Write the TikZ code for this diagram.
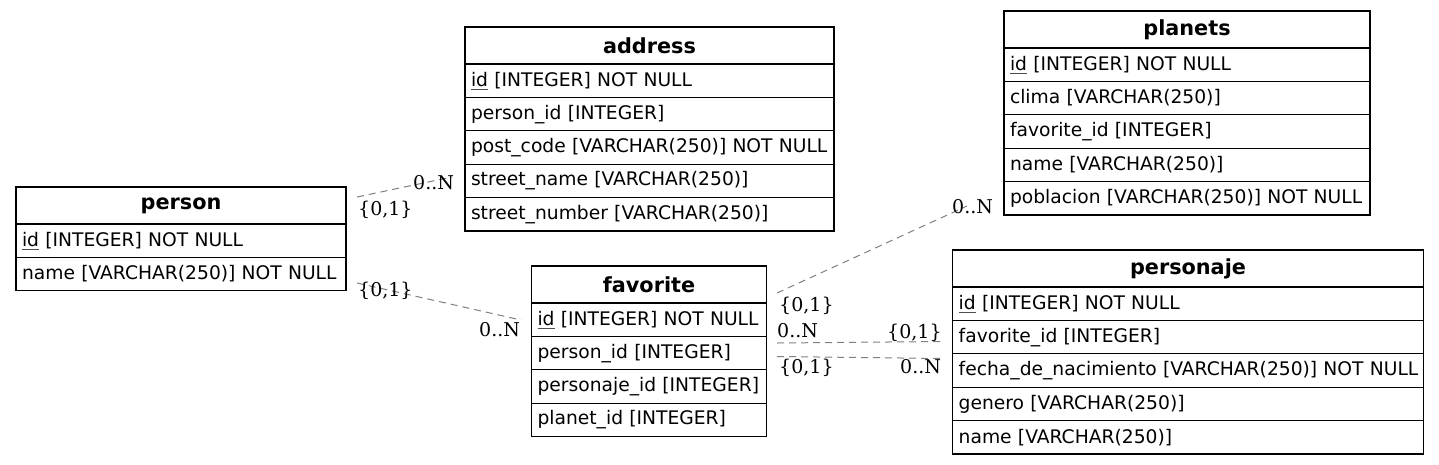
\documentclass[tikz,border=0pt]{standalone}
\usepackage{fontspec}
\setmainfont{DejaVu Sans}
\newfontfamily\lblfont{DejaVu Serif}
\definecolor{edgegray}{RGB}{128,128,128}
\newcommand\pk[1]{{\setbox0\hbox{#1}\rlap{\color{black!70}\rule[-3.2pt]{\wd0}{0.9pt}}\box0}}
\begin{document}
\begin{tikzpicture}[x=1pt,y=-1pt,
  hdr/.style={draw, line width=1.1pt, anchor=north west, inner sep=0pt, outer sep=0pt,
    minimum height=37pt, font=\fontsize{20.8}{22}\selectfont\bfseries},
  fld/.style={draw, line width=1.1pt, anchor=north west, inner xsep=6pt, inner ysep=0pt, outer sep=0pt,
    minimum height=33.4pt, align=left, font=\fontsize{18.7}{20}\selectfont},
  rel/.style={draw=edgegray, dash pattern=on 7pt off 5pt, line width=1pt},
  card/.style={font=\lblfont\fontsize{19}{20}\selectfont, inner sep=0pt, anchor=base west}]
\useasboundingbox[fill=white] (0,0) rectangle (1439,464);

% person
\node[hdr, minimum width=330pt] (person) at (16,187) {person};
\node[fld, text width=318pt] (person-id) at (person.south west) {\mbox{\pk{id} [INTEGER] NOT NULL}};
\node[fld, text width=318pt] (person-name) at (person-id.south west) {\mbox{name [VARCHAR(250)] NOT NULL}};

% address
\node[hdr, minimum width=369pt] (address) at (465,27) {address};
\node[fld, text width=357pt] (address-id) at (address.south west) {\mbox{\pk{id} [INTEGER] NOT NULL}};
\node[fld, text width=357pt] (address-pid) at (address-id.south west) {\mbox{person\_id [INTEGER]}};
\node[fld, text width=357pt] (address-pc) at (address-pid.south west) {\mbox{post\_code [VARCHAR(250)] NOT NULL}};
\node[fld, text width=357pt] (address-sn) at (address-pc.south west) {\mbox{street\_name [VARCHAR(250)]}};
\node[fld, text width=357pt] (address-snum) at (address-sn.south west) {\mbox{street\_number [VARCHAR(250)]}};

% planets
\node[hdr, minimum width=366pt] (planets) at (1004,11) {planets};
\node[fld, text width=354pt] (planets-id) at (planets.south west) {\mbox{\pk{id} [INTEGER] NOT NULL}};
\node[fld, text width=354pt] (planets-clima) at (planets-id.south west) {\mbox{clima [VARCHAR(250)]}};
\node[fld, text width=354pt] (planets-fid) at (planets-clima.south west) {\mbox{favorite\_id [INTEGER]}};
\node[fld, text width=354pt] (planets-name) at (planets-fid.south west) {\mbox{name [VARCHAR(250)]}};
\node[fld, text width=354pt] (planets-pob) at (planets-name.south west) {\mbox{poblacion [VARCHAR(250)] NOT NULL}};

% favorite
\node[hdr, minimum width=235pt] (favorite) at (531.5,266) {favorite};
\node[fld, text width=223pt] (favorite-id) at (favorite.south west) {\mbox{\pk{id} [INTEGER] NOT NULL}};
\node[fld, text width=223pt] (favorite-pid) at (favorite-id.south west) {\mbox{person\_id [INTEGER]}};
\node[fld, text width=223pt] (favorite-pjid) at (favorite-pid.south west) {\mbox{personaje\_id [INTEGER]}};
\node[fld, text width=223pt] (favorite-plid) at (favorite-pjid.south west) {\mbox{planet\_id [INTEGER]}};

% personaje
\node[hdr, minimum width=470.6pt] (personaje) at (952.7,250) {personaje};
\node[fld, text width=458.6pt] (personaje-id) at (personaje.south west) {\mbox{\pk{id} [INTEGER] NOT NULL}};
\node[fld, text width=458.6pt] (personaje-fid) at (personaje-id.south west) {\mbox{favorite\_id [INTEGER]}};
\node[fld, text width=458.6pt] (personaje-fn) at (personaje-fid.south west) {\mbox{fecha\_de\_nacimiento [VARCHAR(250)] NOT NULL}};
\node[fld, text width=458.6pt] (personaje-gen) at (personaje-fn.south west) {\mbox{genero [VARCHAR(250)]}};
\node[fld, text width=458.6pt] (personaje-name) at (personaje-gen.south west) {\mbox{name [VARCHAR(250)]}};

% connector end points
\coordinate (e1a) at (357,197);  \coordinate (e1b) at (452,177);
\coordinate (e2a) at (357,283);  \coordinate (e2b) at (521,320);
\coordinate (e3a) at (777,293);  \coordinate (e3b) at (967,206);
\coordinate (e4a) at (777,343);  \coordinate (e4b) at (943,341.5);
\coordinate (e5a) at (777,356.5);\coordinate (e5b) at (943,358.5);

\draw[rel] (e1a) -- (e1b);
\draw[rel] (e2a) -- (e2b);
\draw[rel] (e3a) -- (e3b);
\draw[rel] (e4a) -- (e4b);
\draw[rel] (e5a) -- (e5b);

% cardinalities
\node[card] (c1b) at (413,189.3) {0..N};
\node[card] (c1a) at (358,215) {\{0,1\}};
\node[card] (c2a) at (358,296.7) {\{0,1\}};
\node[card] (c2b) at (479,336.7) {0..N};
\node[card] (c3a) at (779,311.7) {\{0,1\}};
\node[card] (c3b) at (952,213) {0..N};
\node[card] (c4a) at (777,337.3) {0..N};
\node[card] (c4b) at (887,338.3) {\{0,1\}};
\node[card] (c5a) at (779,373.3) {\{0,1\}};
\node[card] (c5b) at (900,373.3) {0..N};
\end{tikzpicture}
\end{document}
